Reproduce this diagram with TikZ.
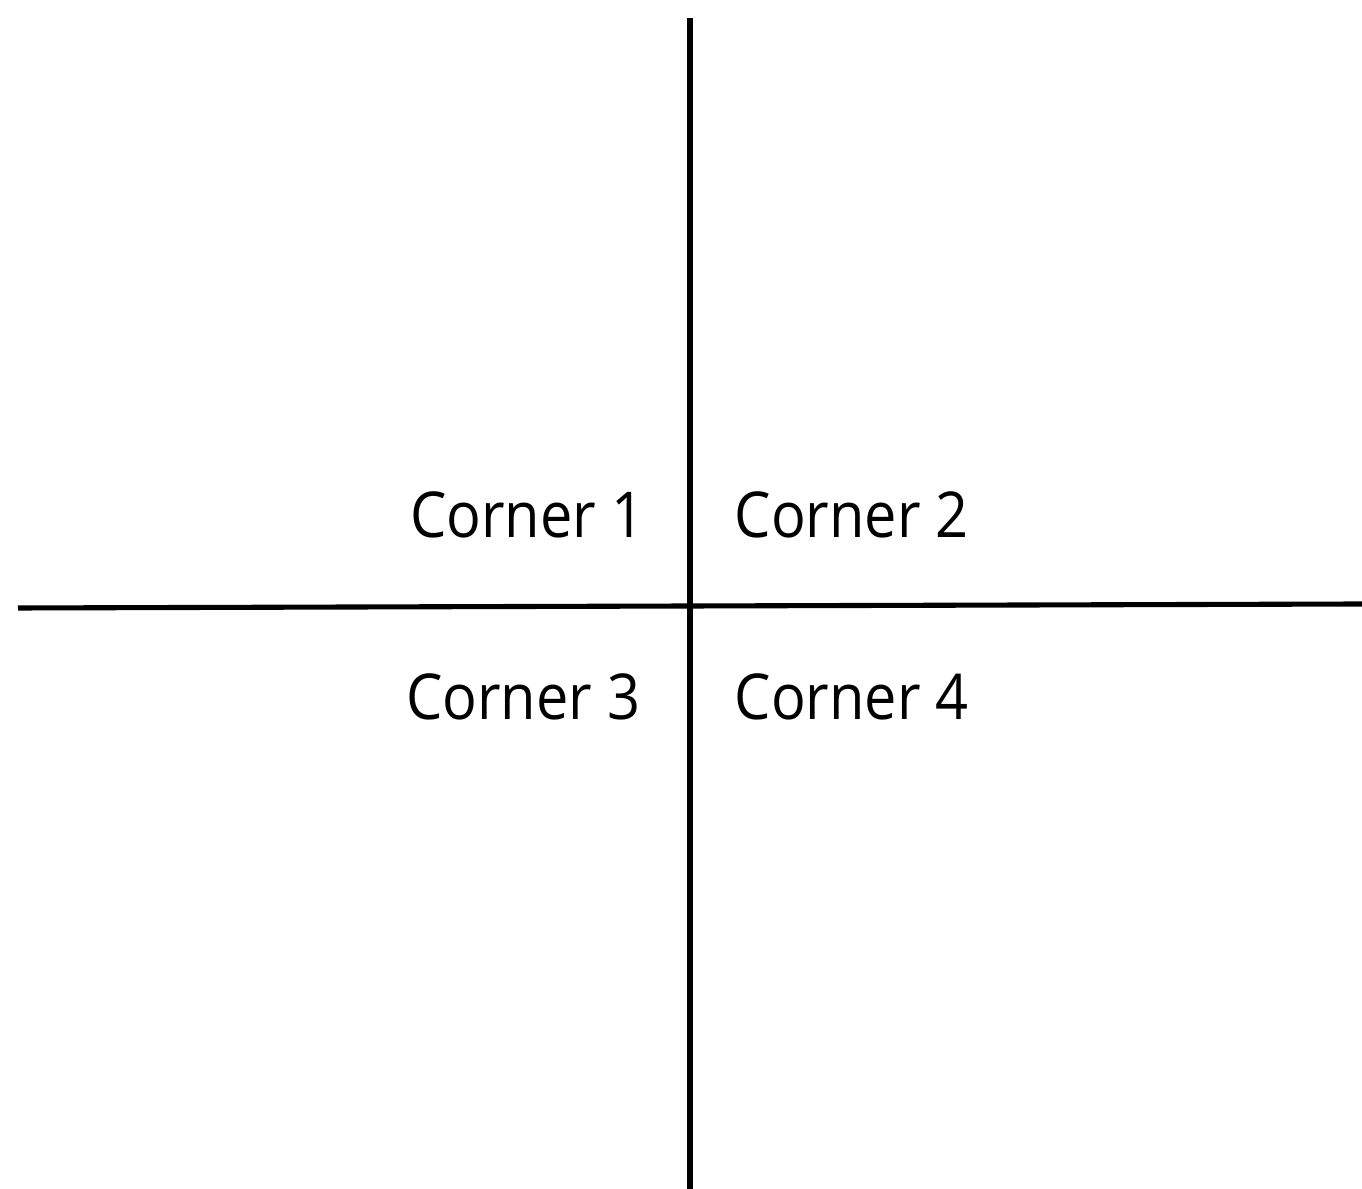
\documentclass[tikz,border=0pt]{standalone}
\usepackage{fontspec}
\setmainfont[FakeStretch=0.912]{Open Sans}
\begin{document}
\begin{tikzpicture}[
  axis/.style={line width=1.45pt, black},
  lbl/.style={inner sep=0pt, font=\fontsize{18}{22}\selectfont}
]
\useasboundingbox[fill=white] (0,0) rectangle (13.62,11.89);
\coordinate (vtop) at (6.90,11.71);
\coordinate (vbot) at (6.90,0);
\coordinate (hleft) at (0.18,5.81);
\coordinate (hright) at (13.62,5.85);
\draw[axis] (vtop) -- (vbot);
\draw[axis] (hleft) -- (hright);
\node[lbl, anchor=base east] (c1) at (6.45,6.51) {Corner 1};
\node[lbl, anchor=base west] (c2) at (7.34,6.51) {Corner 2};
\node[lbl, anchor=base east] (c3) at (6.41,4.69) {Corner 3};
\node[lbl, anchor=base west] (c4) at (7.34,4.69) {Corner 4};
\end{tikzpicture}
\end{document}
